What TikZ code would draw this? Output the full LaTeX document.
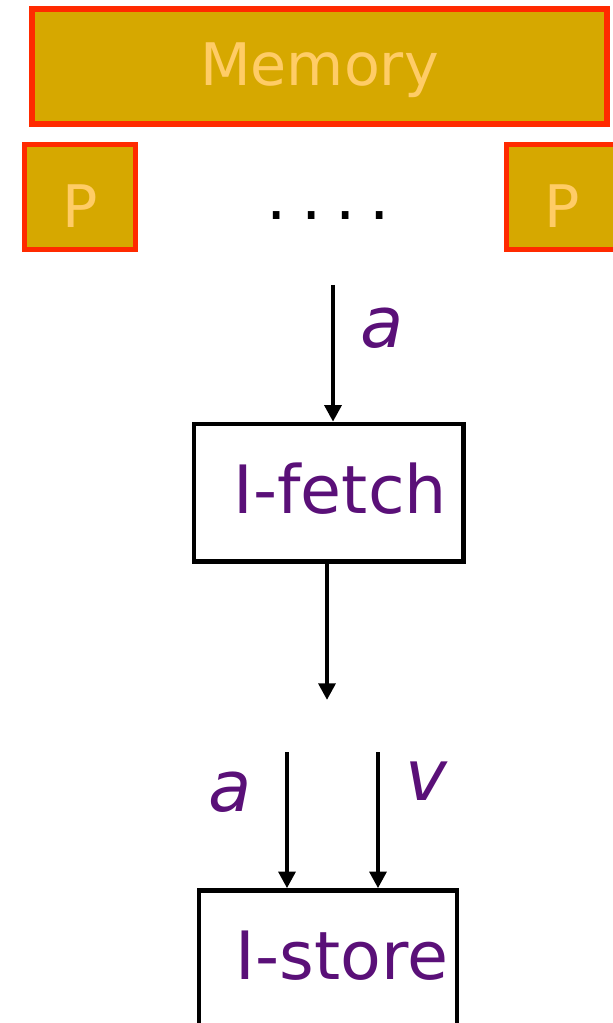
\documentclass[tikz,border=0pt]{standalone}
\usepackage{fontspec}
\setmainfont{DejaVu Sans}
\usetikzlibrary{arrows.meta}

\definecolor{memgold}{RGB}{214,168,0}
\definecolor{memred}{RGB}{255,42,0}
\definecolor{memtext}{RGB}{255,204,102}
\definecolor{instpurple}{RGB}{90,16,120}

\begin{document}
\begin{tikzpicture}[x=0.75pt,y=-0.75pt,
    unit/.style={draw=memred, fill=memgold, line width=3.9pt, text=memtext,
      font=\fontsize{44pt}{44pt}\selectfont, inner sep=0pt, text depth=0pt},
    instbox/.style={draw=black, line width=3.4pt, text=instpurple,
      font=\fontsize{50pt}{50pt}\selectfont, inner sep=0pt, align=right},
    flow/.style={line width=3.6pt, -{Triangle[length=12.5pt,width=12.5pt]}},
    tok/.style={text=instpurple, anchor=base, inner sep=0pt,
      font=\fontsize{53pt}{53pt}\selectfont\itshape}]
      \useasboundingbox (0,0) rectangle (612,1023);

      % Memory and processors
      \node[unit, minimum width=431.25pt, minimum height=86.25pt, text height=29.25pt]
        (memory) at (319.5,66.5) {Memory};
      \node[unit, line width=3.75pt, minimum width=83.25pt, minimum height=78.75pt, text height=46.5pt]
        (pleft) at (80,197) {P};
      \node[unit, line width=3.75pt, minimum width=83.25pt, minimum height=78.75pt, text height=46.5pt]
        (pright) at (562,197) {P};
      \node[anchor=base, inner sep=0pt, font=\fontsize{48pt}{48pt}\selectfont]
        (dots) at (328.5,220) {.\hspace{10.5pt}.\hspace{10.5pt}.\hspace{10.5pt}.};

      %% Instruction boxes
      \node[instbox, minimum width=202.1pt, minimum height=103.1pt, text width=177.4pt,
        text height=30.4pt, text depth=0pt] (fetch) at (328.75,492.75) {I-fetch};
      \node[instbox, minimum width=193.5pt, minimum height=142.1pt, text width=180pt,
        text height=36pt, text depth=43.9pt] (store) at (328,985.25) {I-store};

      % ---------- Arrows ----------
      \coordinate (addrin) at (333,285);
      \coordinate (fetchout) at (327,700);
      \coordinate (storea) at (287,752);
      \coordinate (storev) at (378,752);
      \draw[flow] (addrin) -- (addrin |- fetch.north);
      \draw[flow] (fetchout |- fetch.south) -- (fetchout);
      \draw[flow] (storea) -- (storea |- store.north);
      \draw[flow] (storev) -- (storev |- store.north);

      % ---------- Token labels ----------
      \node[tok] (labaddr) at (382,347) {a};
      \node[tok] (labstorea) at (230,811) {a};
      \node[tok] (labstorev) at (426,800) {v};
    \end{tikzpicture}
\end{document}
